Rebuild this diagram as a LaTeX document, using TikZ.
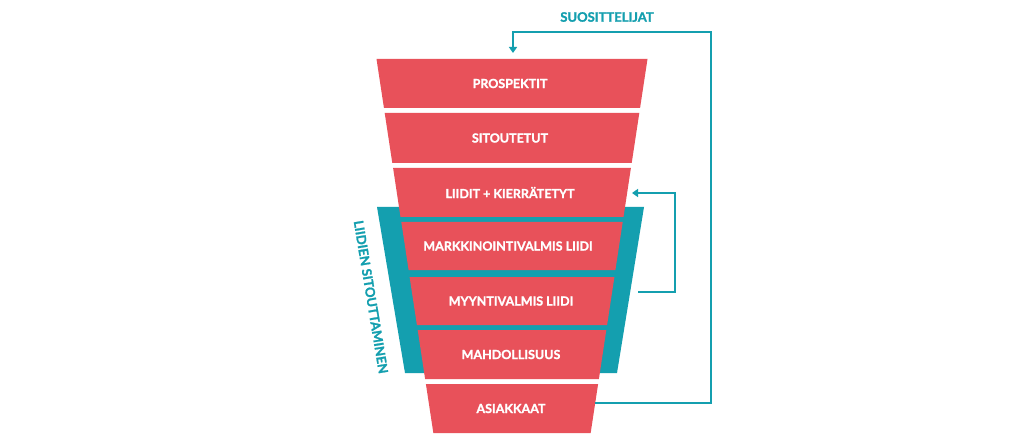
\documentclass[tikz,border=0pt]{standalone}
\usepackage{fontspec}
\setmainfont{Lato}[BoldFeatures={FakeBold=1.4}]
\usetikzlibrary{arrows.meta}
\definecolor{fred}{HTML}{E8515A}
\definecolor{fteal}{HTML}{149FAF}
\begin{document}
\begin{tikzpicture}[x=1pt,y=-1pt,
  seg/.style={fill=fred},
  lbl/.style={text=white,font=\bfseries\fontsize{12.5}{14}\selectfont,inner sep=0pt},
  loopline/.style={draw=fteal,line width=2.6pt,-{Triangle[length=6pt,width=8pt]}},
  tlbl/.style={text=fteal,font=\bfseries\fontsize{13}{15}\selectfont,inner sep=0pt}]
\useasboundingbox[fill=white] (0,0) rectangle (1024,446);
% teal band
\fill[fteal] (377,207) -- (644,207) -- (617,373) -- (405,373) -- cycle;
% funnel segments
\fill[seg] (376.5,59) -- (647.5,59) -- (640.05,108) -- (383.95,108) -- cycle;
\fill[seg] (384.7,113) -- (639.3,113) -- (631.7,163) -- (392.3,163) -- cycle;
\fill[seg] (393.1,168) -- (630.9,168) -- (623.5,217) -- (400.5,217) -- cycle;
\fill[seg] (401.3,222) -- (622.7,222) -- (615.4,270) -- (408.6,270) -- cycle;
\fill[seg] (409.6,277) -- (614.4,277) -- (607.1,325) -- (416.9,325) -- cycle;
\fill[seg] (417.7,330) -- (606.3,330) -- (598.9,379) -- (425.1,379) -- cycle;
\fill[seg] (425.9,384) -- (598.1,384) -- (590.65,433) -- (433.35,433) -- cycle;
% labels
\node[lbl] (prosp) at (510,83.5) {PROSPEKTIT};
\node[lbl] (sitou) at (510,138) {SITOUTETUT};
\node[lbl] (liidit) at (510,192.5) {LIIDIT + KIERRÄTETYT};
\node[lbl] (mql) at (508,246) {MARKKINOINTIVALMIS LIIDI};
\node[lbl] (sql) at (511,301) {MYYNTIVALMIS LIIDI};
\node[lbl] (mahd) at (511,354.5) {MAHDOLLISUUS};
\node[lbl] (asiak) at (511,408.5) {ASIAKKAAT};
\node[tlbl] (suos) at (607,17) {SUOSITTELIJAT};
\node[tlbl,rotate=-80.6] (lsit) at (371,297) {LIIDIEN SITOUTTAMINEN};
% connectors
\coordinate (aR) at (595,403);
\coordinate (pT) at (513,53);
\coordinate (mR) at (638,292);
\coordinate (lR) at (632,193);
\draw[loopline] (aR) -- (711,403) -- (711,32) -- (513,32) -- (pT);
\draw[loopline] (mR) -- (675,292) -- (675,193) -- (lR);
\end{tikzpicture}
\end{document}
